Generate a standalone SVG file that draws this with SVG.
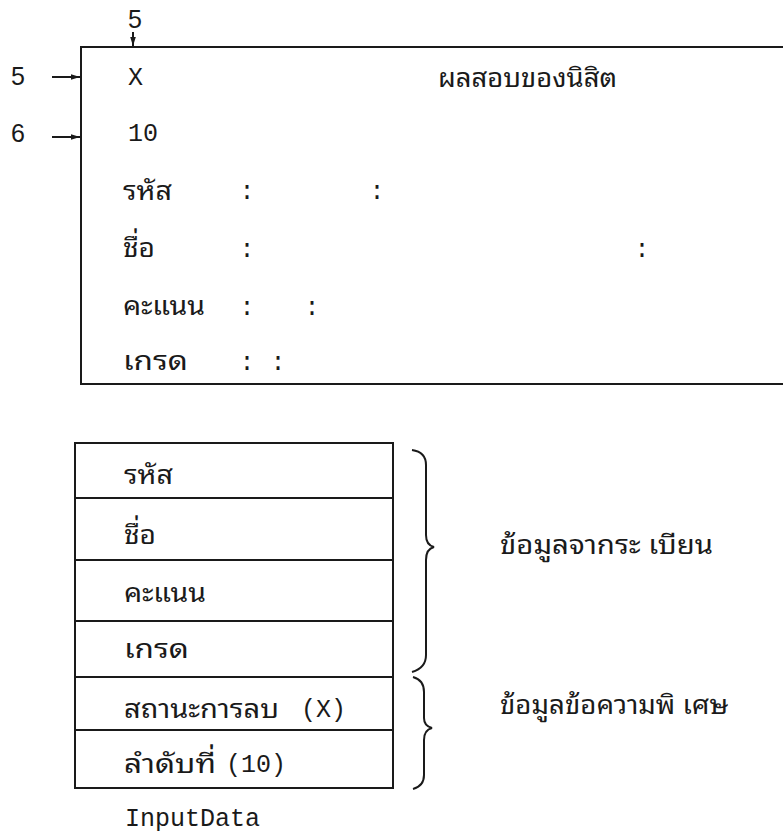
<svg xmlns="http://www.w3.org/2000/svg" width="783" height="835" viewBox="0 0 783 835">
<defs>
<marker id="ah" viewBox="0 0 10 10" refX="10" refY="5" markerWidth="9" markerHeight="7" orient="auto" markerUnits="userSpaceOnUse" preserveAspectRatio="none">
<path d="M0,1 L10,5 L0,9 z" fill="#1a1a1a"/>
</marker>
<style>
.th{font-family:"Noto Sans Thai Looped","Noto Sans Thai","Noto Sans","DejaVu Sans",sans-serif;font-size:27px;fill:#1a1a1a}
.mo{font-family:"Liberation Mono","DejaVu Sans Mono",monospace;font-size:25px;fill:#1a1a1a}
.sa{font-family:"Liberation Sans",Arial,sans-serif;font-size:25px;fill:#1a1a1a}
.ln{stroke:#1a1a1a;stroke-width:2;fill:none}
.cl{text-anchor:middle}
</style>
</defs>
<rect width="783" height="835" fill="#ffffff"/>

<g id="screen">
<path class="ln" d="M790,47 L81,47 L81,384 L790,384"/>
<text class="mo" x="128" y="85">X</text>
<text class="th" x="438" y="87" textLength="179" lengthAdjust="spacingAndGlyphs">ผลสอบของนิสิต</text>
<text class="mo" x="128" y="141">10</text>
<text class="th" x="123" y="200" textLength="49" lengthAdjust="spacingAndGlyphs">รหัส</text>
<text class="mo cl" x="247" y="199">:</text>
<text class="mo cl" x="377" y="199">:</text>
<text class="th" x="123" y="257" textLength="32" lengthAdjust="spacingAndGlyphs">ชื่อ</text>
<text class="mo cl" x="247" y="257">:</text>
<text class="mo cl" x="642" y="257">:</text>
<text class="th" x="123" y="315" textLength="82" lengthAdjust="spacingAndGlyphs">คะแนน</text>
<text class="mo cl" x="247" y="315">:</text>
<text class="mo cl" x="312" y="315">:</text>
<text class="th" x="123" y="370" textLength="65" lengthAdjust="spacingAndGlyphs">เกรด</text>
<text class="mo cl" x="247" y="370">:</text>
<text class="mo cl" x="278" y="370">:</text>
</g>

<g id="labels">
<text class="sa" x="128" y="28">5</text>
<text class="sa" x="11" y="85">5</text>
<text class="sa" x="11" y="142">6</text>
</g>

<g id="connectors">
<line class="ln" x1="133" y1="32" x2="133" y2="46" marker-end="url(#ah)"/>
<line class="ln" x1="52" y1="77" x2="80" y2="77" marker-end="url(#ah)"/>
<line class="ln" x1="52" y1="137" x2="80" y2="137" marker-end="url(#ah)"/>
</g>

<g id="inputdata">
<rect class="ln" x="75" y="443" width="318" height="345"/>
<line class="ln" x1="75" y1="498" x2="393" y2="498"/>
<line class="ln" x1="75" y1="560" x2="393" y2="560"/>
<line class="ln" x1="75" y1="621" x2="393" y2="621"/>
<line class="ln" x1="75" y1="677" x2="393" y2="677"/>
<line class="ln" x1="75" y1="730" x2="393" y2="730"/>
<text class="th" x="124" y="484" textLength="49" lengthAdjust="spacingAndGlyphs">รหัส</text>
<text class="th" x="124" y="544" textLength="32" lengthAdjust="spacingAndGlyphs">ชื่อ</text>
<text class="th" x="124" y="602" textLength="82" lengthAdjust="spacingAndGlyphs">คะแนน</text>
<text class="th" x="124" y="658" textLength="65" lengthAdjust="spacingAndGlyphs">เกรด</text>
<text class="th" x="124" y="718" textLength="155" lengthAdjust="spacingAndGlyphs">สถานะการลบ</text>
<text class="mo" x="301" y="717">(X)</text>
<text class="th" x="124" y="773" textLength="92" lengthAdjust="spacingAndGlyphs">ลำดับที่</text>
<text class="mo" x="226" y="772">(10)</text>
<text class="mo" x="125" y="826">InputData</text>
</g>

<g id="brace-register">
<path class="ln" d="M412,450 Q426,452 426,465 L426,535 Q426,545 434,547 Q426,549 426,560 L426,655 Q426,668 412,672"/>
<text class="th" x="500" y="554" textLength="213" lengthAdjust="spacingAndGlyphs">ข้อมูลจากระ เบียน</text>
</g>

<g id="brace-special">
<path class="ln" d="M413,677 Q424,680 424,692 L424,718 Q424,726 432,728 Q424,730 424,740 L424,775 Q424,786 413,789"/>
<text class="th" x="500" y="714" textLength="228" lengthAdjust="spacingAndGlyphs">ข้อมูลข้อความพิ เศษ</text>
</g>
</svg>
